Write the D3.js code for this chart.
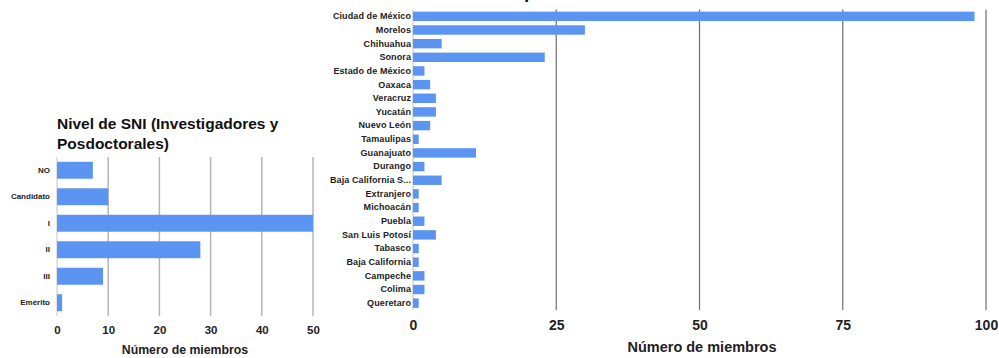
<!DOCTYPE html>
<html>
<head>
<meta charset="utf-8">
<script src="https://cdn.jsdelivr.net/npm/d3@7"></script>
<style>
  html, body { margin: 0; padding: 0; background: #fff; }
  svg { display: block; font-family: "Liberation Sans", Arial, sans-serif; }
</style>
</head>
<body>
<svg id="chart" width="999" height="358"></svg>
<script>
// ---------- Data ----------
const sniCategories = ["NO", "Candidato", "I", "II", "III", "Emérito"];
const sniValues = [7, 10, 50, 28, 9, 1];
const sniTicks = [0, 10, 20, 30, 40, 50];

const stateCategories = ["Ciudad de México", "Morelos", "Chihuahua", "Sonora", "Estado de México",
  "Oaxaca", "Veracruz", "Yucatán", "Nuevo León", "Tamaulipas", "Guanajuato", "Durango",
  "Baja California Sur", "Extranjero", "Michoacán", "Puebla", "San Luis Potosí", "Tabasco",
  "Baja California", "Campeche", "Colima", "Queretaro"];
const stateValues = [98, 30, 5, 23, 2, 3, 4, 4, 3, 1, 11, 2, 5, 1, 1, 2, 4, 1, 1, 2, 2, 1];
const stateTicks = [0, 25, 50, 75, 100];

const titleLeft = ["Nivel de SNI (Investigadores y", "Posdoctorales)"];
const titleRight = "Distribución por estado";
const axisTitle = "Número de miembros";

const barColor = "#5b95f1";
const svg = d3.select("#chart");

// ---------- Left chart ----------
{
  const x = d3.scaleLinear().domain([0, 50]).range([57, 313]);
  const y = d3.scaleBand().domain(sniCategories).range([157, 316]).paddingInner(0.36).paddingOuter(0.18);
  const g = svg.append("g");

  g.append("g").selectAll("line").data(sniTicks).join("line")
    .attr("x1", d => x(d)).attr("x2", d => x(d))
    .attr("y1", 157).attr("y2", 316)
    .attr("stroke", d => d === 0 ? "#d8d8d8" : "#b4b4b4").attr("stroke-width", 1.5);

  g.append("g").selectAll("rect").data(sniValues).join("rect")
    .attr("x", x(0)).attr("y", (d, i) => y(sniCategories[i]))
    .attr("width", d => x(d) - x(0)).attr("height", y.bandwidth())
    .attr("fill", barColor);

  const yAxis = g.append("g").attr("transform", "translate(50,0)")
    .call(d3.axisLeft(y).tickSize(0).tickPadding(0));
  yAxis.select(".domain").remove();
  yAxis.selectAll("text").attr("font-size", 8).attr("font-weight", "bold")
    .attr("fill", "#222").attr("font-family", "Liberation Sans, Arial, sans-serif");

  const xAxis = g.append("g").attr("transform", "translate(0,322)")
    .call(d3.axisBottom(x).tickValues(sniTicks).tickSize(0).tickPadding(4));
  xAxis.select(".domain").remove();
  xAxis.selectAll("text").attr("font-size", 11.5).attr("font-weight", "bold")
    .attr("fill", "#222").attr("font-family", "Liberation Sans, Arial, sans-serif");

  g.append("text").attr("x", 185).attr("y", 354).attr("text-anchor", "middle")
    .attr("font-size", 12.3).attr("font-weight", "bold").attr("fill", "#222")
    .text(axisTitle);

  g.append("g").selectAll("text").data(titleLeft).join("text")
    .attr("x", 57).attr("y", (d, i) => 129 + i * 20)
    .attr("font-size", 15.5).attr("font-weight", "bold").attr("fill", "#111")
    .text(d => d);
}

// ---------- Right chart ----------
{
  const x = d3.scaleLinear().domain([0, 100]).range([413, 986]);
  const y = d3.scaleBand().domain(stateCategories).range([9.5, 310]).paddingInner(0.31).paddingOuter(0.155);
  const g = svg.append("g");

  g.append("g").selectAll("line").data(stateTicks).join("line")
    .attr("x1", d => x(d)).attr("x2", d => x(d))
    .attr("y1", 9.5).attr("y2", 310)
    .attr("stroke", d => d === 0 ? "#cccccc" : "#6e6e6e").attr("stroke-width", 1.2);

  g.append("g").selectAll("rect").data(stateValues).join("rect")
    .attr("x", x(0)).attr("y", (d, i) => y(stateCategories[i]))
    .attr("width", d => x(d) - x(0)).attr("height", y.bandwidth())
    .attr("fill", barColor);

  const yAxis = g.append("g").attr("transform", "translate(411,0)")
    .call(d3.axisLeft(y).tickSize(0).tickPadding(0)
      .tickFormat(d => d.length > 18 ? d.slice(0, 17) + "..." : d));
  yAxis.select(".domain").remove();
  yAxis.selectAll("text").attr("font-size", 9).attr("font-weight", "bold")
    .attr("fill", "#222").attr("letter-spacing", 0.1)
    .attr("font-family", "Liberation Sans, Arial, sans-serif");

  const xAxis = g.append("g").attr("transform", "translate(0,316)")
    .call(d3.axisBottom(x).tickValues(stateTicks).tickSize(0).tickPadding(4));
  xAxis.select(".domain").remove();
  xAxis.selectAll("text").attr("font-size", 14).attr("font-weight", "bold")
    .attr("fill", "#222").attr("font-family", "Liberation Sans, Arial, sans-serif");

  g.append("text").attr("x", 702).attr("y", 352).attr("text-anchor", "middle")
    .attr("font-size", 14.5).attr("font-weight", "bold").attr("fill", "#222")
    .text(axisTitle);

  const t = g.append("text").attr("y", -2).attr("font-size", 19)
    .attr("font-weight", "bold").attr("fill", "#111").text(titleRight);
  const pIdx = titleRight.indexOf("p");
  const off = t.node().getSubStringLength(0, pIdx);
  t.attr("x", 524 - off);
}
</script>
</body>
</html>
